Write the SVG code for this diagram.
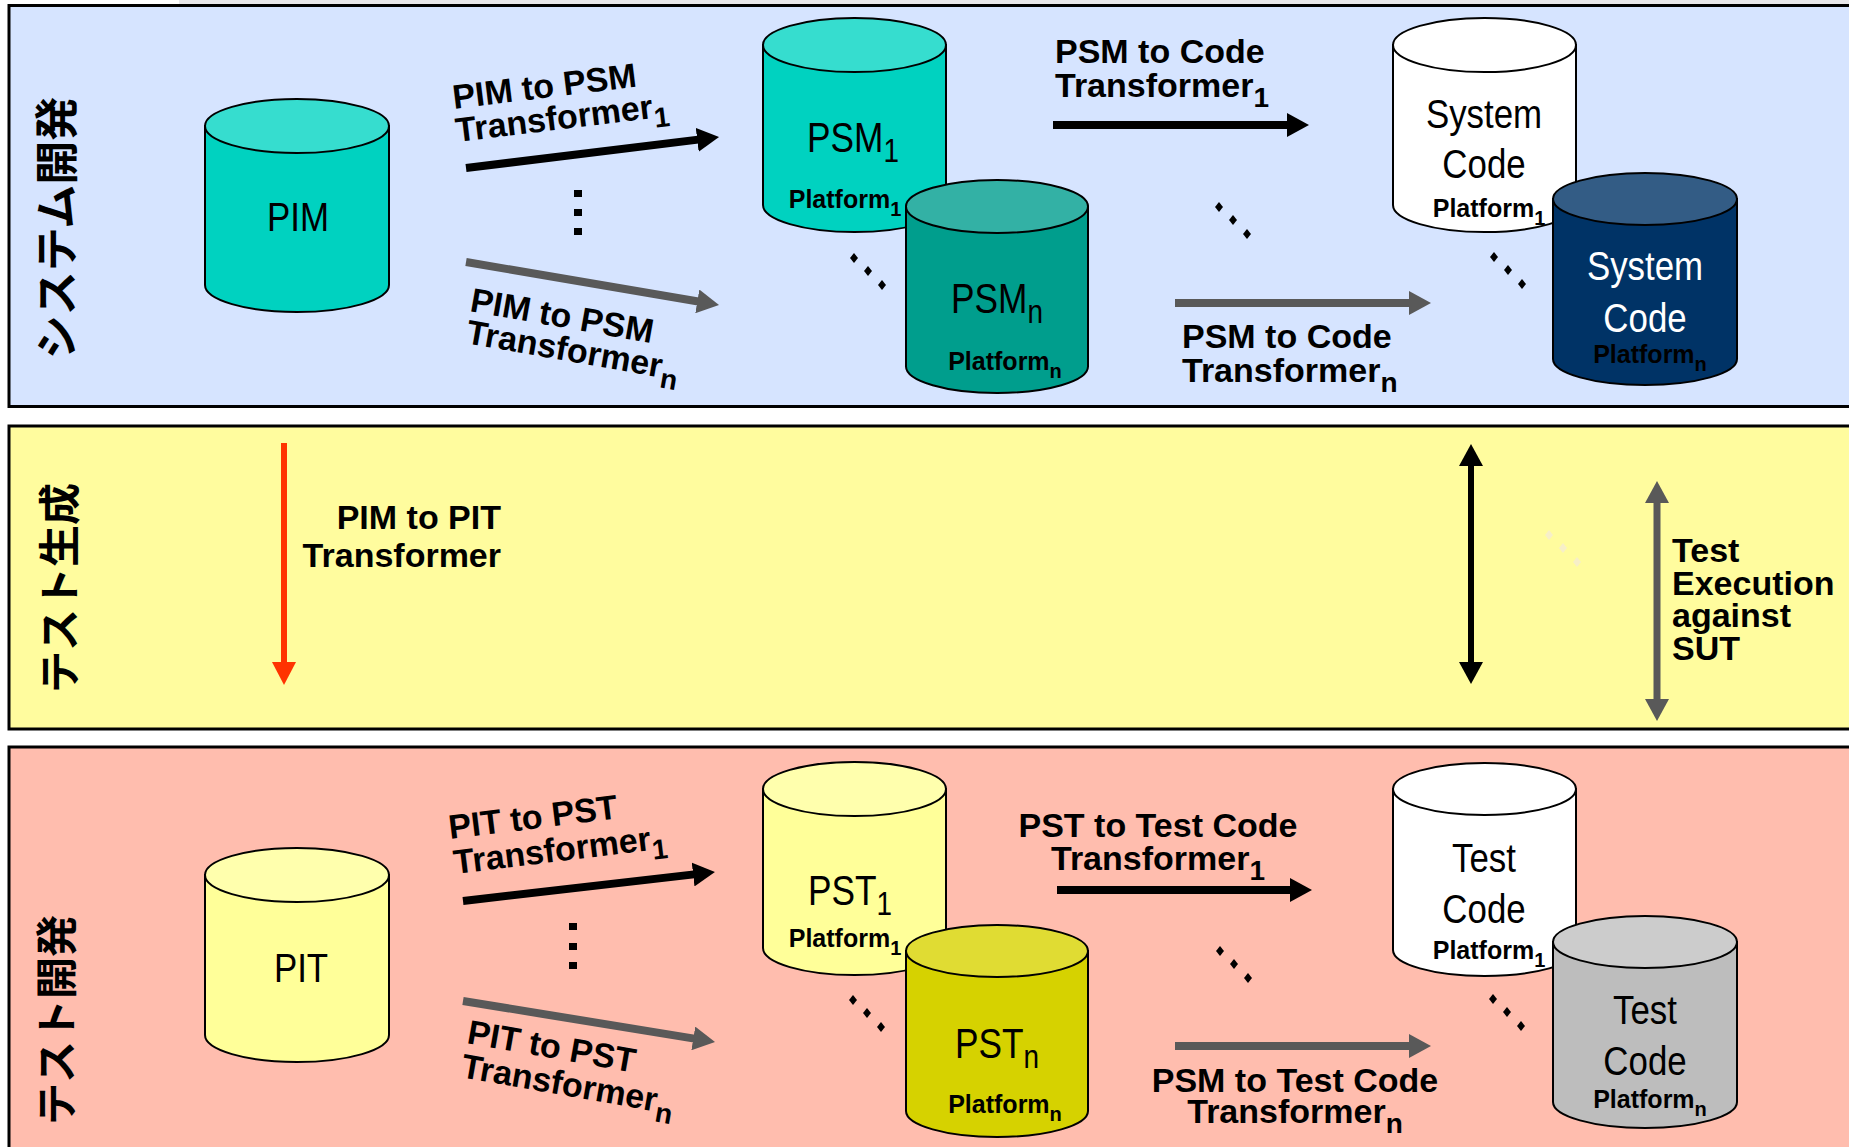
<svg xmlns="http://www.w3.org/2000/svg" xmlns:xlink="http://www.w3.org/1999/xlink" width="1849" height="1147" viewBox="0 0 1849 1147">
<style>
.lbl{font-family:"Liberation Sans",Arial,sans-serif;font-weight:bold;font-size:34px;fill:#000}
.sb{font-size:28px}
.cyl{font-family:"Liberation Sans",Arial,sans-serif;font-size:41px;fill:#000}
.plat{font-family:"Liberation Sans",Arial,sans-serif;font-weight:bold;font-size:25px;fill:#000}
.ps{font-size:20px}
.jp{font-family:"Liberation Sans","Noto Sans CJK JP",sans-serif;font-weight:bold;font-size:44px;fill:#000}
.cs{stroke:#000;stroke-width:2}
.tr{stroke-width:8;fill:none}
</style>
<defs>
<marker id="hb" viewBox="0 -12 22 24" refX="1" refY="0" markerWidth="22" markerHeight="24" orient="auto-start-reverse" markerUnits="userSpaceOnUse"><path d="M0,-12 L22,0 L0,12 z" fill="#000"/></marker>
<marker id="hg" viewBox="0 -12 22 24" refX="1" refY="0" markerWidth="22" markerHeight="24" orient="auto-start-reverse" markerUnits="userSpaceOnUse"><path d="M0,-12 L22,0 L0,12 z" fill="#595959"/></marker>
<marker id="hr" viewBox="0 -12 23 24" refX="1" refY="0" markerWidth="23" markerHeight="24" orient="auto" markerUnits="userSpaceOnUse"><path d="M0,-12 L23,0 L0,12 z" fill="#FF3300"/></marker>
<g id="dd"><path d="M0,-5 L4,0 L0,5 L-4,0z"/><path d="M14,8 L18,13 L14,18 L10,13z"/><path d="M28,22 L32,27 L28,32 L24,27z"/></g>
</defs>

<rect x="179" y="0" width="1670" height="4" fill="#E8E7EA"/>

<g id="panel-system">
<rect x="9" y="5.5" width="1860" height="401" fill="#D6E4FF" stroke="#000" stroke-width="3"/>
<text class="jp" transform="translate(73,228) rotate(-90)" text-anchor="middle">システム開発</text>
</g>
<g id="panel-testgen">
<rect x="9" y="426" width="1860" height="303" fill="#FFFC9E" stroke="#000" stroke-width="3"/>
<text class="jp" style="font-size:42px" transform="translate(75,588) rotate(-90)" text-anchor="middle">テスト生成</text>
</g>
<g id="panel-testdev">
<rect x="9" y="747" width="1860" height="420" fill="#FFBDAE" stroke="#000" stroke-width="3"/>
<text class="jp" style="font-size:42px" transform="translate(72,1020) rotate(-90)" text-anchor="middle">テスト開発</text>
</g>

<g id="connectors">
<line class="tr" x1="466" y1="168" x2="698.2" y2="139.6" stroke="#000" marker-end="url(#hb)"/>
<line class="tr" x1="466" y1="262" x2="698.3" y2="301.5" stroke="#595959" marker-end="url(#hg)"/>
<line class="tr" x1="1053" y1="125" x2="1288" y2="125" stroke="#000" marker-end="url(#hb)"/>
<line class="tr" x1="1175" y1="303" x2="1410" y2="303" stroke="#595959" marker-end="url(#hg)"/>
<line x1="284" y1="443" x2="284" y2="663" stroke="#FF3300" stroke-width="6" marker-end="url(#hr)"/>
<line x1="1471" y1="465" x2="1471" y2="663" stroke="#000" stroke-width="6" marker-start="url(#hb)" marker-end="url(#hb)"/>
<line x1="1657" y1="502" x2="1657" y2="700" stroke="#595959" stroke-width="7" marker-start="url(#hg)" marker-end="url(#hg)"/>
<line class="tr" x1="463" y1="901" x2="694.1" y2="874.4" stroke="#000" marker-end="url(#hb)"/>
<line class="tr" x1="463" y1="1001" x2="694.3" y2="1038.6" stroke="#595959" marker-end="url(#hg)"/>
<line class="tr" x1="1057" y1="890" x2="1291" y2="890" stroke="#000" marker-end="url(#hb)"/>
<line class="tr" x1="1175" y1="1046" x2="1410" y2="1046" stroke="#595959" marker-end="url(#hg)"/>
</g>

<g id="labels">
<text class="lbl" transform="translate(454,109) rotate(-7)">PIM to PSM</text>
<text class="lbl" transform="translate(457,142) rotate(-7)">Transformer<tspan class="sb" dy="10">1</tspan></text>
<text class="lbl" transform="translate(469,311) rotate(10)">PIM to PSM</text>
<text class="lbl" transform="translate(465,343) rotate(10)">Transformer<tspan class="sb" dy="10">n</tspan></text>
<text class="lbl" x="1055" y="63">PSM to Code</text>
<text class="lbl" x="1055" y="97">Transformer<tspan class="sb" dy="10">1</tspan></text>
<text class="lbl" x="1182" y="348">PSM to Code</text>
<text class="lbl" x="1182" y="382">Transformer<tspan class="sb" dy="10">n</tspan></text>
<text class="lbl" x="501" y="529" text-anchor="end">PIM to PIT</text>
<text class="lbl" x="501" y="567" text-anchor="end">Transformer</text>
<text class="lbl" x="1672" y="562">Test</text>
<text class="lbl" x="1672" y="595">Execution</text>
<text class="lbl" x="1672" y="627">against</text>
<text class="lbl" x="1672" y="660">SUT</text>
<text class="lbl" transform="translate(450,839) rotate(-7)">PIT to PST</text>
<text class="lbl" transform="translate(455,874) rotate(-7)">Transformer<tspan class="sb" dy="10">1</tspan></text>
<text class="lbl" transform="translate(466,1043) rotate(10)">PIT to PST</text>
<text class="lbl" transform="translate(460,1077) rotate(10)">Transformer<tspan class="sb" dy="10">n</tspan></text>
<text class="lbl" x="1158" y="837" text-anchor="middle">PST to Test Code</text>
<text class="lbl" x="1158" y="870" text-anchor="middle">Transformer<tspan class="sb" dy="10">1</tspan></text>
<text class="lbl" x="1295" y="1092" text-anchor="middle">PSM to Test Code</text>
<text class="lbl" x="1295" y="1123" text-anchor="middle">Transformer<tspan class="sb" dy="10">n</tspan></text>
</g>

<g id="ellipsis">
<rect x="574" y="190" width="8" height="7"/><rect x="574" y="209" width="8" height="7"/><rect x="574" y="228" width="8" height="7"/>
<rect x="569" y="923" width="8" height="7"/><rect x="569" y="943" width="8" height="7"/><rect x="569" y="962" width="8" height="7"/>
<use xlink:href="#dd" href="#dd" x="854" y="258"/>
<use xlink:href="#dd" href="#dd" x="1219" y="207"/>
<use xlink:href="#dd" href="#dd" x="1494" y="257"/>
<use xlink:href="#dd" href="#dd" x="1549" y="535" fill="#F7EFC8"/>
<use xlink:href="#dd" href="#dd" x="853" y="1000"/>
<use xlink:href="#dd" href="#dd" x="1220" y="951"/>
<use xlink:href="#dd" href="#dd" x="1493" y="999"/>
</g>

<g id="node-pim">
<path class="cs" d="M205,126 V285 A92,27 0 0 0 389,285 V126 Z" fill="#00D2C0"/>
<ellipse class="cs" cx="297" cy="126" rx="92" ry="27" fill="#36DDCF"/>
<text class="cyl" transform="translate(298,231) scale(0.85,1)" text-anchor="middle">PIM</text>
</g>
<g id="node-psm1">
<path class="cs" d="M763,45 V205 A91.5,27 0 0 0 946,205 V45 Z" fill="#00D2C0"/>
<ellipse class="cs" cx="854.5" cy="45" rx="91.5" ry="27" fill="#36DDCF"/>
<text class="cyl" style="font-size:43px" transform="translate(853,152) scale(0.82,1)" text-anchor="middle">PSM<tspan font-size="34" dy="10">1</tspan></text>
<text class="plat" x="845" y="208" text-anchor="middle">Platform<tspan class="ps" dy="8">1</tspan></text>
</g>
<g id="node-psmn">
<path class="cs" d="M906,206.5 V366.5 A91,26.5 0 0 0 1088,366.5 V206.5 Z" fill="#009E8D"/>
<ellipse class="cs" cx="997" cy="206.5" rx="91" ry="26.5" fill="#33B1A5"/>
<text class="cyl" style="font-size:43px" transform="translate(997,313) scale(0.82,1)" text-anchor="middle">PSM<tspan font-size="34" dy="10">n</tspan></text>
<text class="plat" x="1005" y="370" text-anchor="middle">Platform<tspan class="ps" dy="8">n</tspan></text>
</g>
<g id="node-syscode1">
<path class="cs" d="M1393,45 V205 A91.5,27 0 0 0 1576,205 V45 Z" fill="#FFFFFF"/>
<ellipse class="cs" cx="1484.5" cy="45" rx="91.5" ry="27" fill="#FFFFFF"/>
<text class="cyl" transform="translate(1484,128) scale(0.85,1)" text-anchor="middle">System</text>
<text class="cyl" transform="translate(1484,178) scale(0.85,1)" text-anchor="middle">Code</text>
<text class="plat" x="1489" y="217" text-anchor="middle">Platform<tspan class="ps" dy="8">1</tspan></text>
</g>
<g id="node-syscoden">
<path class="cs" d="M1553,199 V359 A92,26 0 0 0 1737,359 V199 Z" fill="#003366"/>
<ellipse class="cs" cx="1645" cy="199" rx="92" ry="26" fill="#335C85"/>
<text class="cyl" style="fill:#fff" transform="translate(1645,280) scale(0.85,1)" text-anchor="middle">System</text>
<text class="cyl" style="fill:#fff" transform="translate(1645,332) scale(0.85,1)" text-anchor="middle">Code</text>
<text class="plat" x="1650" y="363" text-anchor="middle">Platform<tspan class="ps" dy="8">n</tspan></text>
</g>

<g id="node-pit">
<path class="cs" d="M205,875 V1035 A92,27 0 0 0 389,1035 V875 Z" fill="#FFFF99"/>
<ellipse class="cs" cx="297" cy="875" rx="92" ry="27" fill="#FFFFAD"/>
<text class="cyl" transform="translate(301,982) scale(0.85,1)" text-anchor="middle">PIT</text>
</g>
<g id="node-pst1">
<path class="cs" d="M763,789 V948 A91.5,27 0 0 0 946,948 V789 Z" fill="#FFFF99"/>
<ellipse class="cs" cx="854.5" cy="789" rx="91.5" ry="27" fill="#FFFFAD"/>
<text class="cyl" style="font-size:43px" transform="translate(850,905) scale(0.82,1)" text-anchor="middle">PST<tspan font-size="34" dy="10">1</tspan></text>
<text class="plat" x="845" y="947" text-anchor="middle">Platform<tspan class="ps" dy="8">1</tspan></text>
</g>
<g id="node-pstn">
<path class="cs" d="M906,951 V1111 A91,26 0 0 0 1088,1111 V951 Z" fill="#D6D200"/>
<ellipse class="cs" cx="997" cy="951" rx="91" ry="26" fill="#E0DC33"/>
<text class="cyl" style="font-size:43px" transform="translate(997,1058) scale(0.82,1)" text-anchor="middle">PST<tspan font-size="34" dy="10">n</tspan></text>
<text class="plat" x="1005" y="1113" text-anchor="middle">Platform<tspan class="ps" dy="8">n</tspan></text>
</g>
<g id="node-testcode1">
<path class="cs" d="M1393,789 V950 A91.5,26 0 0 0 1576,950 V789 Z" fill="#FFFFFF"/>
<ellipse class="cs" cx="1484.5" cy="789" rx="91.5" ry="26" fill="#FFFFFF"/>
<text class="cyl" transform="translate(1484,872) scale(0.85,1)" text-anchor="middle">Test</text>
<text class="cyl" transform="translate(1484,923) scale(0.85,1)" text-anchor="middle">Code</text>
<text class="plat" x="1489" y="959" text-anchor="middle">Platform<tspan class="ps" dy="8">1</tspan></text>
</g>
<g id="node-testcoden">
<path class="cs" d="M1553,942 V1102 A92,26 0 0 0 1737,1102 V942 Z" fill="#BDBDBD"/>
<ellipse class="cs" cx="1645" cy="942" rx="92" ry="26" fill="#CCCCCC"/>
<text class="cyl" transform="translate(1645,1024) scale(0.85,1)" text-anchor="middle">Test</text>
<text class="cyl" transform="translate(1645,1075) scale(0.85,1)" text-anchor="middle">Code</text>
<text class="plat" x="1650" y="1108" text-anchor="middle">Platform<tspan class="ps" dy="8">n</tspan></text>
</g>
</svg>
